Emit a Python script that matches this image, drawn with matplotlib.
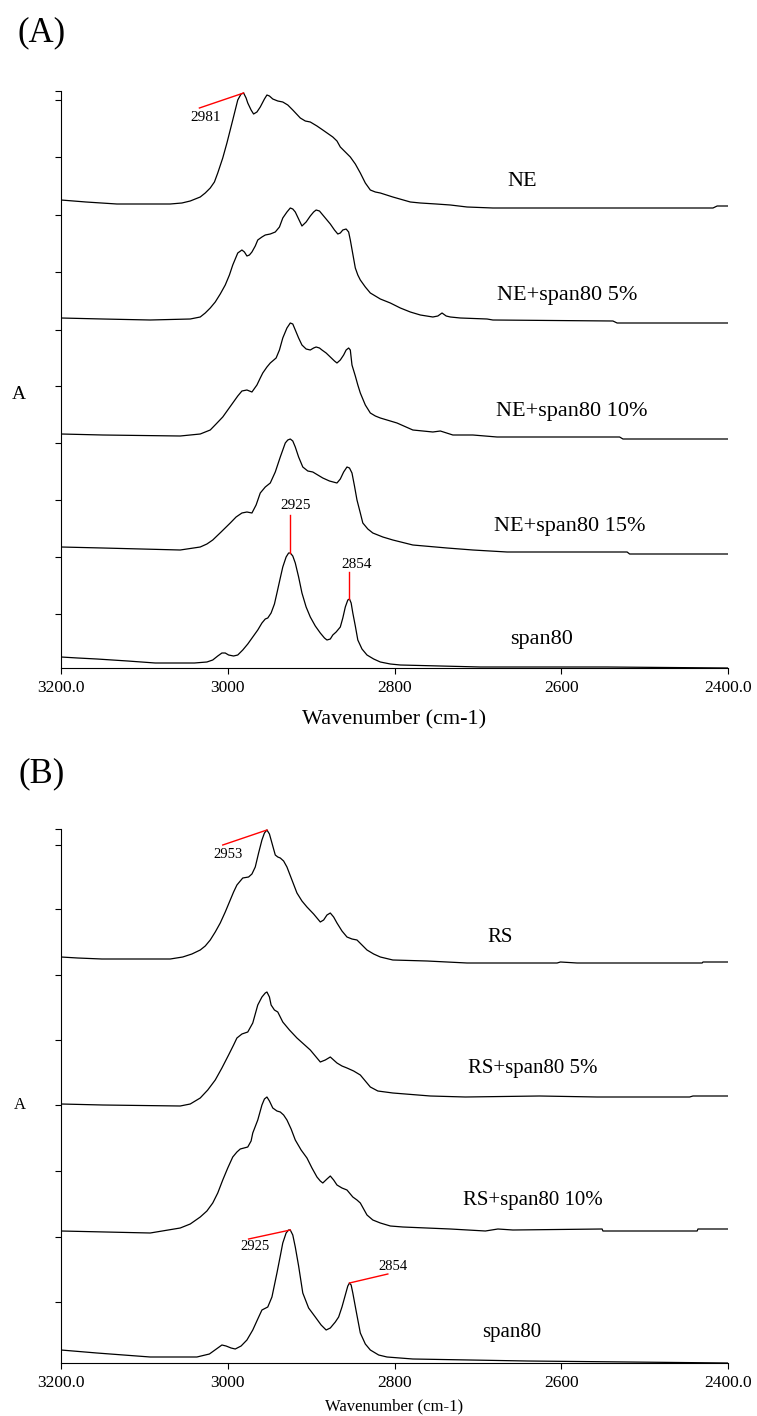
import matplotlib
matplotlib.use("Agg")
import matplotlib.pyplot as plt

plt.rcParams['font.family'] = ['Liberation Serif', 'DejaVu Serif']

# ---------------- Panel A data (stacked FTIR spectra, a.u.) ----------------
A_ne_wn = [3200, 3170, 3133, 3069, 3055, 3045, 3033, 3027, 3021, 3016, 3012, 3006, 3001, 2994,
           2988, 2984, 2981, 2978, 2976, 2972, 2969, 2965, 2961, 2956, 2953, 2950, 2946, 2940,
           2934, 2928, 2922, 2913, 2907, 2901, 2893, 2886, 2874, 2869, 2865, 2859, 2853, 2847,
           2841, 2835, 2829, 2823, 2817, 2802, 2781, 2769, 2750, 2733, 2713, 2682, 2418, 2413, 2400]
A_ne_val = [468, 466, 464, 464, 465, 467, 471, 475, 480, 486, 495, 510, 525, 548,
            568, 574, 575, 570, 565, 558, 554, 556, 561, 569, 573, 572, 569, 567,
            566, 563, 558, 550, 547, 546, 542, 538, 531, 527, 521, 516, 511, 504,
            495, 485, 478, 476, 475, 471, 466, 465, 464, 463, 461, 460, 460, 462, 462]

A_ne5_wn = [3200, 3150, 3093, 3045, 3033, 3027, 3021, 3015, 3009, 3003, 2998, 2994, 2988, 2983,
            2980, 2977, 2974, 2971, 2967, 2964, 2959, 2955, 2949, 2943, 2938, 2934, 2929, 2925,
            2922, 2919, 2915, 2911, 2906, 2901, 2897, 2894, 2890, 2887, 2882, 2877, 2872, 2868,
            2865, 2862, 2858, 2855, 2853, 2850, 2847, 2844, 2841, 2835, 2829, 2817, 2805, 2793,
            2781, 2769, 2754, 2748, 2743, 2738, 2733, 2721, 2689, 2682, 2538, 2533, 2400]
A_ne5_val = [350, 349, 348, 349, 351, 355, 360, 366, 374, 383, 393, 403, 415, 418,
             416, 412, 413, 416, 422, 428, 431, 433, 434, 436, 441, 450, 456, 460,
             459, 456, 449, 442, 446, 452, 456, 458, 457, 454, 449, 444, 438, 434,
             435, 438, 439, 436, 428, 414, 400, 393, 388, 381, 375, 369, 365, 360,
             356, 353, 351, 352, 355, 352, 351, 350, 349, 348, 347, 345, 345]

A_ne10_wn = [3200, 3150, 3057, 3033, 3027, 3021, 3014, 3006, 3000, 2994, 2988, 2983, 2977, 2971,
             2965, 2961, 2958, 2953, 2949, 2942, 2938, 2934, 2929, 2925, 2922, 2919, 2915, 2911,
             2906, 2901, 2897, 2894, 2890, 2887, 2882, 2877, 2872, 2869, 2865, 2861, 2858, 2855,
             2853, 2851, 2847, 2844, 2841, 2835, 2829, 2823, 2817, 2805, 2797, 2778, 2754, 2745,
             2730, 2706, 2677, 2530, 2526, 2400]
A_ne10_val = [234, 233, 232, 234, 236, 238, 244, 251, 258, 265, 272, 277, 278, 276,
              283, 290, 295, 301, 305, 310, 318, 330, 340, 345, 344, 338, 330, 323,
              319, 318, 320, 321, 320, 318, 315, 311, 307, 305, 308, 313, 318, 320,
              318, 303, 292, 283, 275, 263, 255, 252, 250, 247, 245, 238, 236, 237,
              233, 233, 231, 231, 229, 229]

A_ne15_wn = [3200, 3150, 3057, 3033, 3025, 3018, 3008, 2997, 2990, 2983, 2977, 2971, 2966, 2961,
             2955, 2949, 2943, 2937, 2931, 2928, 2925, 2922, 2919, 2915, 2910, 2904, 2898, 2892,
             2886, 2878, 2869, 2865, 2861, 2857, 2854, 2851, 2848, 2845, 2841, 2838, 2832, 2826,
             2814, 2802, 2778, 2737, 2706, 2665, 2521, 2518, 2400]
A_ne15_val = [121, 120, 118, 121, 124, 128, 136, 145, 151, 155, 156, 155, 163, 175,
              181, 185, 196, 211, 225, 228, 229, 227, 221, 211, 201, 197, 196, 193,
              190, 187, 185, 189, 196, 201, 200, 195, 182, 168, 155, 145, 139, 135,
              131, 128, 123, 120, 118, 116, 116, 114, 114]

A_sp_wn = [3200, 3180, 3157, 3120, 3087, 3040, 3025, 3018, 3012, 3007, 3003, 2999, 2993, 2988,
           2982, 2976, 2970, 2964, 2959, 2955, 2952, 2948, 2944, 2941, 2937, 2934, 2930, 2927,
           2925, 2922, 2919, 2915, 2911, 2906, 2901, 2895, 2889, 2884, 2881, 2877, 2874, 2870,
           2865, 2862, 2859, 2856, 2854, 2852, 2850, 2847, 2844, 2839, 2833, 2825, 2817, 2805,
           2793, 2697, 2545, 2400]
A_sp_val = [11, 10, 9, 7, 5, 5, 6, 8, 12, 15, 15, 13, 12, 13,
            18, 24, 31, 38, 45, 49, 50, 55, 64, 75, 90, 101, 111, 115,
            115, 112, 105, 91, 75, 61, 51, 42, 35, 30, 28, 29, 33, 36,
            41, 50, 61, 68, 69, 65, 55, 42, 28, 19, 13, 9, 6, 4,
            3, 1, 1, 0]

A_labels = ["NE", "NE+span80 5%", "NE+span80 10%", "NE+span80 15%", "span80"]
A_label_wn = [2647, 2593, 2588, 2590, 2624]
A_label_val = [486, 372, 256, 141, 28]
A_yticks = [54, 111, 168, 225, 282, 338, 396, 453, 511, 568, 577]

# ---------------- Panel B data ----------------
B_rs_wn = [3200, 3180, 3151, 3069, 3054, 3043, 3033, 3027, 3021, 3015, 3009, 3003, 2997, 2993,
           2989, 2985, 2982, 2975, 2971, 2967, 2963, 2959, 2956, 2953, 2950, 2948, 2945, 2943,
           2940, 2937, 2933, 2929, 2923, 2917, 2911, 2905, 2897, 2889, 2885, 2881, 2877, 2873,
           2869, 2863, 2857, 2851, 2845, 2839, 2833, 2825, 2817, 2802, 2761, 2713, 2605, 2601,
           2581, 2431, 2430, 2400]
B_rs_val = [406, 405, 404, 404, 406, 409, 413, 417, 423, 431, 440, 451, 463, 471,
            478, 482, 485, 486, 489, 496, 510, 523, 530, 533, 529, 523, 514, 508,
            506, 505, 502, 496, 483, 470, 462, 456, 449, 441, 443, 448, 450, 446,
            440, 432, 426, 424, 423, 418, 413, 409, 406, 403, 402, 400, 400, 401,
            400, 400, 401, 401]

B_rs5_wn = [3200, 3150, 3057, 3045, 3033, 3024, 3015, 3007, 2999, 2993, 2989, 2983, 2976, 2970,
            2964, 2959, 2955, 2953, 2950, 2948, 2944, 2940, 2934, 2926, 2917, 2909, 2901, 2895,
            2889, 2883, 2877, 2873, 2869, 2863, 2857, 2849, 2841, 2835, 2829, 2820, 2802, 2757,
            2715, 2626, 2557, 2446, 2442, 2400]
B_rs5_val = [259, 258, 257, 259, 265, 273, 283, 295, 308, 318, 325, 329, 331, 340,
             358, 366, 370, 371, 366, 358, 353, 351, 341, 333, 325, 319, 313, 307,
             301, 303, 306, 303, 300, 297, 295, 292, 288, 282, 276, 272, 270, 267,
             266, 267, 266, 266, 267, 267]

B_rs10_wn = [3200, 3093, 3057, 3045, 3033, 3025, 3018, 3012, 3006, 3000, 2994, 2989, 2985, 2976,
             2972, 2970, 2964, 2959, 2956, 2953, 2950, 2946, 2941, 2937, 2933, 2929, 2924, 2919,
             2912, 2905, 2899, 2893, 2889, 2886, 2881, 2877, 2873, 2869, 2863, 2857, 2850, 2845,
             2841, 2833, 2826, 2817, 2805, 2790, 2733, 2691, 2676, 2658, 2551, 2550, 2437, 2436, 2400]
B_rs10_val = [132, 130, 135, 139, 146, 152, 160, 170, 183, 195, 206, 211, 214, 216,
              222, 230, 243, 258, 264, 266, 262, 255, 252, 251, 248, 243, 234, 223,
              213, 205, 195, 186, 182, 180, 184, 187, 183, 178, 175, 173, 166, 163,
              160, 148, 143, 140, 137, 136, 134, 132, 134, 133, 134, 132, 132, 134, 134]

B_sp_wn = [3200, 3157, 3093, 3037, 3022, 3012, 3007, 3002, 2996, 2991, 2984, 2977, 2970, 2964,
           2959, 2952, 2947, 2941, 2937, 2934, 2930, 2927, 2925, 2922, 2919, 2915, 2910, 2903,
           2895, 2888, 2882, 2877, 2871, 2867, 2863, 2859, 2856, 2854, 2852, 2850, 2846, 2841,
           2835, 2829, 2819, 2809, 2778, 2641, 2519, 2400]
B_sp_val = [13, 10, 6, 6, 9, 15, 18, 17, 15, 14, 17, 23, 33, 44,
            53, 56, 66, 90, 107, 120, 130, 133, 133, 128, 116, 97, 70, 55,
            46, 38, 33, 35, 41, 46, 56, 68, 77, 80, 78, 70, 52, 30,
            19, 13, 8, 6, 4, 2, 1, 0]

B_labels = ["RS", "RS+span80 5%", "RS+span80 10%", "span80"]
B_label_wn = [2673, 2634, 2634, 2660]
B_label_val = [426, 295, 162, 30]
B_yticks = [61, 126, 192, 258, 323, 388, 454, 518, 534]

xticks = [3200, 3000, 2800, 2600, 2400]
xticklabels = ["3200.0", "3000", "2800", "2600", "2400.0"]

# peak annotations: (text, peak_wn, peak_val, line_end_wn, line_end_val, text_wn, text_val)
A_annot = [("2981", 2981, 575, 3034, 560, 3027, 550),
           ("2925", 2925, 115, 2925, 153, 2919, 162),
           ("2854", 2854, 69, 2854, 96, 2846, 103)]
B_annot = [("2953", 2953, 533, 3006, 518, 3000, 508),
           ("2925", 2925, 133, 2975, 124, 2967, 116),
           ("2854", 2854, 80, 2808, 89, 2802, 96)]

W, H = 757, 1416
fig = plt.figure(figsize=(W / 100, H / 100), dpi=100)


def make_axes(left, right, top, bottom):
    return fig.add_axes([left / W, 1 - bottom / H, (right - left) / W, (bottom - top) / H])


def style(ax, ymax, yticks, tick_fs, xl_fs, lab_pad):
    ax.set_xlim(3200, 2400)
    ax.set_ylim(0, ymax)
    for s in ("top", "right"):
        ax.spines[s].set_visible(False)
    for s in ("left", "bottom"):
        ax.spines[s].set_linewidth(0.8)
    ax.set_xticks(xticks)
    ax.set_xticklabels(xticklabels, fontsize=tick_fs)
    ax.set_yticks(yticks)
    ax.set_yticklabels([])
    ax.tick_params(axis='both', direction='out', length=4.5, width=0.8, pad=4)
    ax.set_xlabel("Wavenumber (cm-1)", fontsize=xl_fs, labelpad=lab_pad)


# ---- Panel A ----
axA = make_axes(61, 728, 91, 668)
for wn, val in [(A_ne_wn, A_ne_val), (A_ne5_wn, A_ne5_val), (A_ne10_wn, A_ne10_val),
                (A_ne15_wn, A_ne15_val), (A_sp_wn, A_sp_val)]:
    axA.plot(wn, val, color='black', lw=0.9)
style(axA, 577, A_yticks, 12.5, 16, 10.5)
for t, w, v in zip(A_labels, A_label_wn, A_label_val):
    axA.text(w, v, t, fontsize=16, ha='center', va='center')
for t, pw, pv, lw_, lv, tw, tv in A_annot:
    axA.plot([pw, lw_], [pv, lv], color='red', lw=1.0)
    axA.text(tw, tv, t, fontsize=11, ha='center', va='center')
fig.text(18.5 / W, 1 - 394 / H, "A", fontsize=14, ha='center', va='center')
fig.text(42 / W, 1 - 33 / H, "(A)", fontsize=25, ha='center', va='center')

# ---- Panel B ----
axB = make_axes(61, 728, 829, 1363)
for wn, val in [(B_rs_wn, B_rs_val), (B_rs5_wn, B_rs5_val), (B_rs10_wn, B_rs10_val),
                (B_sp_wn, B_sp_val)]:
    axB.plot(wn, val, color='black', lw=0.9)
style(axB, 534, B_yticks, 12.5, 12, 5.5)
for t, w, v in zip(B_labels, B_label_wn, B_label_val):
    axB.text(w, v, t, fontsize=15, ha='center', va='center')
for t, pw, pv, lw_, lv, tw, tv in B_annot:
    axB.plot([pw, lw_], [pv, lv], color='red', lw=1.0)
    axB.text(tw, tv, t, fontsize=10.5, ha='center', va='center')
fig.text(19.5 / W, 1 - 1105 / H, "A", fontsize=12, ha='center', va='center')
fig.text(42 / W, 1 - 774 / H, "(B)", fontsize=25, ha='center', va='center')

fig.savefig("out.png", dpi=100)
